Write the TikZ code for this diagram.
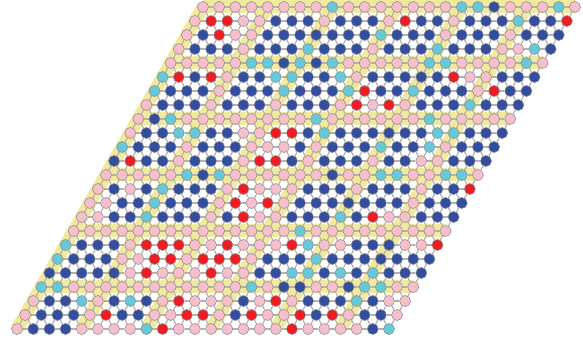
\documentclass[tikz,border=0pt]{standalone}
\usepackage{tikz}
\pgfdeclarelayer{yel}
\pgfdeclarelayer{bonds}
\pgfsetlayers{yel,bonds,main}

\definecolor{colP}{RGB}{247,190,204}
\definecolor{colB}{RGB}{52,78,158}
\definecolor{colR}{RGB}{236,30,36}
\definecolor{colC}{RGB}{102,200,216}
\definecolor{colY}{RGB}{241,233,155}
\definecolor{colG}{RGB}{178,178,178}

\begin{document}
\begin{tikzpicture}[
        x=0.75pt, y=-0.75pt,
        site/.style={circle, draw=black!45, line width=0.4pt, minimum size=8.3pt, inner sep=0pt},
        bond/.style={draw=colG, line width=0.9pt},
        wall/.style={draw=colY, line width=9.75pt}
    ]
    \useasboundingbox (0,0) rectangle (583,341);

    \foreach \row [count=\r from 0] in {
        {P,P,P,P,P,P,P,P,C,P,P,P,P,P,P,P,C,C,B,P,P,P,C,P},
        {P,R,R,P,P,B,B,B,P,B,B,B,P,R,B,B,P,B,B,B,C,B,B,R},
        {P,B,R,P,P,B,B,B,B,B,B,B,C,B,B,B,P,B,B,B,P,B,B,B},
        {P,B,B,B,P,B,B,B,C,B,B,B,P,B,B,B,C,B,B,B,P,P,C,B},
        {P,P,P,P,P,C,C,B,C,B,C,P,P,P,P,P,C,C,P,P,P,P,C,P},
        {C,R,B,R,P,B,B,C,C,B,B,C,P,B,B,B,B,B,R,P,P,B,B,B},
        {C,B,B,B,P,B,B,B,C,B,B,B,C,R,B,B,C,B,B,B,P,R,B,B},
        {P,B,B,B,P,B,B,B,P,B,B,B,P,R,P,R,P,B,B,B,C,B,B,B},
        {P,B,C,P,P,P,P,P,P,P,P,C,P,P,P,P,P,P,C,P,P,P,P,P},
        {P,B,B,C,C,B,B,P,P,R,R,B,C,B,B,B,B,B,B,C,C,B,B,B},
        {C,B,B,B,P,B,B,B,P,P,P,B,P,B,B,B,C,B,B,C,P,B,B,B},
        {B,R,B,B,P,B,B,B,P,R,R,B,P,B,B,B,P,B,B,P,P,B,B,B},
        {P,P,P,P,P,C,B,C,P,P,P,P,P,P,B,P,P,C,C,P,P,C,C,P},
        {P,B,P,B,C,B,B,B,P,R,P,P,P,B,B,B,P,B,B,B,P,B,B,R},
        {P,P,B,B,C,B,B,B,P,R,P,R,P,B,B,B,B,B,B,B,P,B,B,B},
        {P,P,B,B,C,B,B,B,P,B,R,P,P,B,B,B,C,B,R,P,P,B,B,B},
        {P,P,P,P,P,P,P,P,P,P,P,P,P,P,C,P,P,P,P,P,P,P,P,P},
        {C,B,B,B,P,R,R,R,P,P,R,P,P,P,R,C,P,P,B,B,B,P,P,R},
        {C,B,B,B,P,P,R,R,P,R,R,R,P,B,B,B,C,B,B,B,B,B,B,B},
        {B,B,B,B,B,P,R,P,P,P,R,P,P,B,B,C,C,B,C,B,C,B,B,B},
        {C,C,P,P,P,P,P,P,P,P,P,P,P,C,P,B,B,P,P,B,C,C,P,P},
        {P,B,B,C,P,B,C,B,P,R,P,P,P,B,P,R,P,B,B,B,C,B,P,P},
        {P,B,B,B,P,R,B,B,P,P,R,R,P,B,R,P,P,R,B,R,P,B,B,P},
        {P,B,B,B,P,P,P,P,C,R,P,P,P,P,P,P,P,R,P,P,P,P,B,C}} {
        \foreach \c [count=\i from 0] in \row {
            \node[site, fill=col\c] (s-\r-\i) at ({203-8.085*\r+16.17*\i}, {7+14*\r}) {};
        }
    }

    \begin{pgfonlayer}{bonds}
    \foreach \r in {0,...,23} {
        \foreach \i in {0,...,23} {
            \pgfmathtruncatemacro{\rn}{\r+1}
            \pgfmathtruncatemacro{\inn}{\i+1}
            \ifnum\i<23 \draw[bond] (s-\r-\i) -- (s-\r-\inn); \fi
            \ifnum\r<23
                \draw[bond] (s-\r-\i) -- (s-\rn-\i);
                \ifnum\i<23 \draw[bond] (s-\r-\i) -- (s-\rn-\inn); \fi
            \fi
        }
    }
    \end{pgfonlayer}

    \begin{pgfonlayer}{yel}
    \foreach \k in {0,4,...,20} {
        \draw[wall] (s-\k-0.center) -- (s-\k-23.center);
        \draw[wall] (s-0-\k.center) -- (s-23-\k.center);
    }
    \end{pgfonlayer}
\end{tikzpicture}
\end{document}
